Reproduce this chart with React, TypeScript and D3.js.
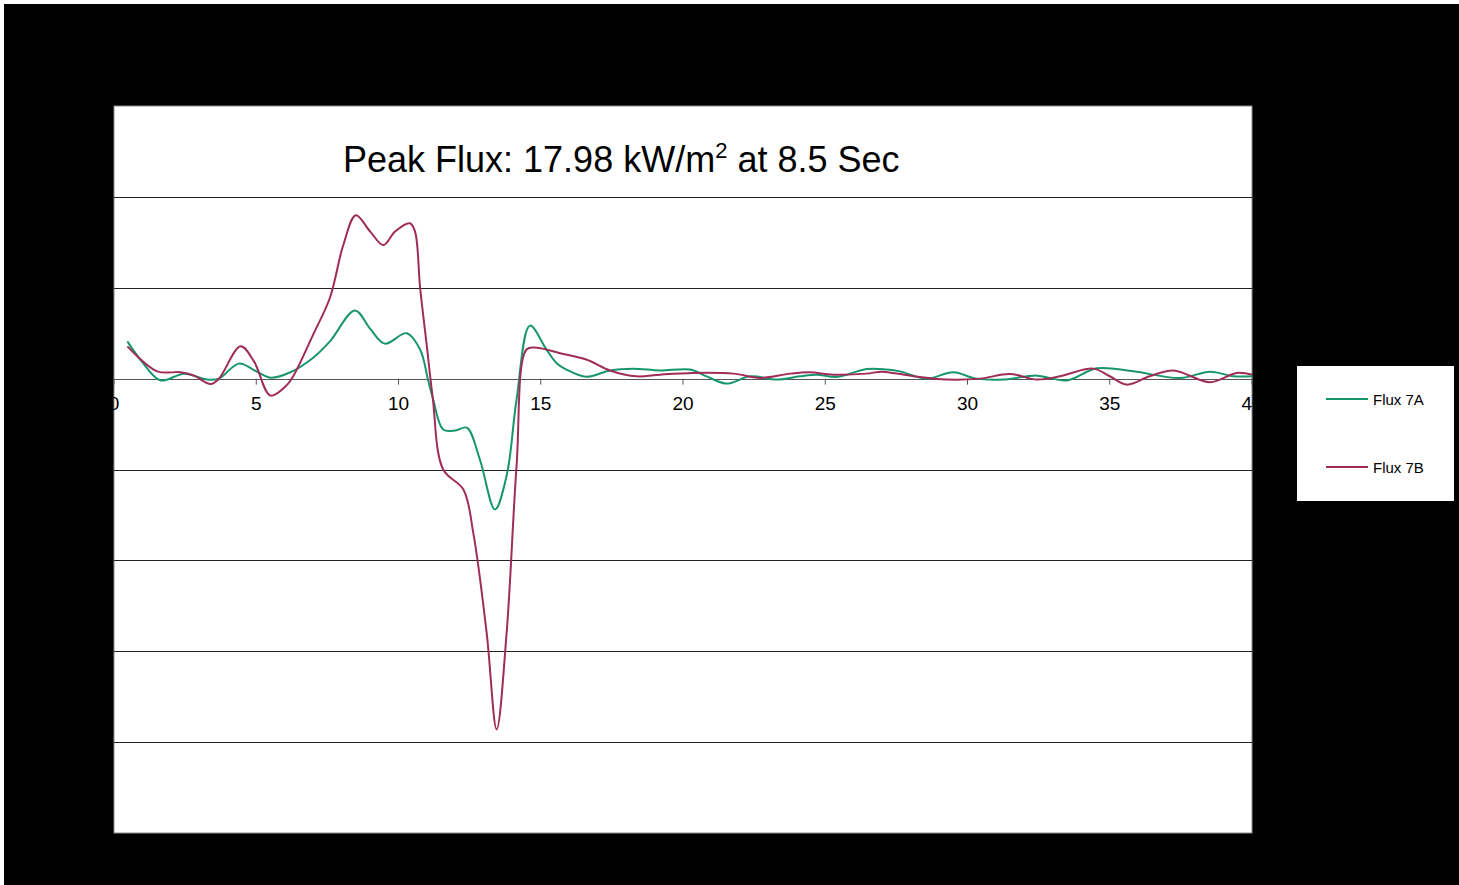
import React from "react";
import * as d3 from "d3";

const xTicks = [0, 5, 10, 15, 20, 25, 30, 35, 40];
const yTicks = [-50, -40, -30, -20, -10, 0, 10, 20, 30];

const timeA = [0.47, 1.0, 1.64, 2.46, 3.28, 3.69, 4.39, 5.0, 5.5, 6.2, 7.0, 7.59, 8.47, 9.0, 9.52, 10.29, 10.76, 11.05, 11.22, 11.57, 12.0, 12.4, 12.86, 13.39, 13.8, 14.15, 14.62, 15.2, 15.56, 15.9, 16.6, 17.43, 18.25, 19.19, 20.25, 20.83, 21.54, 22.36, 23.3, 24.1, 24.7, 25.4, 26.46, 27.16, 27.63, 28.56, 29.5, 30.3, 31.26, 32.44, 33.5, 34.54, 35.83, 37.47, 38.53, 39.34, 40];
const fluxA = [4.1, 1.8, -0.2, 0.55, -0.1, 0.0, 1.65, 0.8, 0.1, 0.7, 2.3, 4.1, 7.5, 5.5, 3.85, 5.0, 3.2, -0.3, -2.3, -5.6, -5.7, -5.4, -8.9, -14.4, -10.7, -2.3, 5.83, 3.2, 1.7, 1.0, 0.2, 0.9, 1.1, 0.9, 1.0, 0.25, -0.55, 0.25, -0.1, 0.25, 0.44, 0.18, 1.06, 1.0, 0.8, 0.0, 0.7, 0.0, -0.1, 0.33, -0.2, 1.13, 0.8, 0.07, 0.77, 0.26, 0.26];

const timeB = [0.47, 1.52, 2.34, 2.81, 3.4, 3.69, 4.45, 4.92, 5.5, 6.09, 6.33, 7.0, 7.59, 8.06, 8.5, 9.0, 9.47, 9.88, 10.4, 10.58, 10.76, 10.99, 11.2, 11.57, 12.28, 12.63, 13.1, 13.45, 13.8, 14.15, 14.5, 14.85, 15.68, 16.6, 17.43, 18.37, 19.19, 20.36, 21.77, 22.7, 23.76, 24.46, 25.28, 26.46, 27.0, 28.1, 29.27, 30.44, 31.49, 32.44, 33.25, 34.42, 35.0, 35.6, 36.4, 37.24, 38.53, 39.46, 40];
const fluxB = [3.55, 0.8, 0.7, 0.33, -0.6, 0.0, 3.55, 1.9, -1.87, -0.66, 0.44, 4.84, 8.9, 14.7, 17.98, 16.2, 14.7, 16.2, 17.1, 16.2, 10, 3.74, -2.0, -10, -12.2, -17, -28, -38.6, -28, -9.6, 3.2, 3.4, 2.8, 2.1, 0.9, 0.25, 0.44, 0.62, 0.55, 0.08, 0.55, 0.7, 0.44, 0.55, 0.77, 0.26, -0.1, 0.0, 0.5, -0.1, 0.26, 1.1, 0.26, -0.66, 0.26, 0.9, -0.4, 0.62, 0.44];

const seriesNames = ["Flux 7A", "Flux 7B"];
const seriesColors = ["#17966b", "#a02c5a"];

export default function App() {
  const W = 1459;
  const H = 885;
  const left = 114, right = 1252, top = 106, bottom = 833;
  const x = d3.scaleLinear().domain([0, 40]).range([left, right]);
  const y = d3.scaleLinear().domain([-50, 30]).range([bottom, top]);
  const line = d3
    .line<[number, number]>()
    .x((d) => x(d[0]))
    .y((d) => y(d[1]))
    .curve(d3.curveCatmullRom.alpha(0.5));
  const dataA: [number, number][] = timeA.map((t, i) => [t, fluxA[i]]);
  const dataB: [number, number][] = timeB.map((t, i) => [t, fluxB[i]]);
  const font = "Liberation Sans, Arial, sans-serif";

  return (
    <svg
      width={W}
      height={H}
      style={{ position: "absolute", left: 0, top: 0, background: "#fff" }}
    >
      <defs>
        <clipPath id="plotClip">
          <rect x={left} y={top} width={right - left} height={bottom - top} />
        </clipPath>
      </defs>
      <rect x={4} y={4} width={W - 4} height={H - 4} fill="#000" />
      <rect
        x={left}
        y={top}
        width={right - left}
        height={bottom - top}
        fill="#fff"
        stroke="#8a8a8a"
        strokeWidth={1}
      />
      {yTicks
        .filter((v) => v !== 0 && v !== -50 && v !== 30)
        .map((v) => (
          <line
            key={"g" + v}
            x1={left}
            x2={right}
            y1={Math.round(y(v)) + 0.5}
            y2={Math.round(y(v)) + 0.5}
            stroke="#222"
            strokeWidth={1}
          />
        ))}
      {yTicks.map((v) => (
        <text
          key={"yl" + v}
          x={left - 10}
          y={y(v) + 6}
          textAnchor="end"
          fontFamily={font}
          fontSize={19}
          fill="#000"
        >
          {v}
        </text>
      ))}
      <line
        x1={left}
        x2={right}
        y1={Math.round(y(0)) + 0.5}
        y2={Math.round(y(0)) + 0.5}
        stroke="#555"
        strokeWidth={1.2}
      />
      {xTicks.map((t) => (
        <g key={"xt" + t}>
          <line
            x1={x(t)}
            x2={x(t)}
            y1={y(0)}
            y2={y(0) + 6}
            stroke="#555"
            strokeWidth={1}
          />
          <text
            x={x(t)}
            y={y(0) + 31}
            textAnchor="middle"
            fontFamily={font}
            fontSize={19}
            fill="#000"
          >
            {t}
          </text>
        </g>
      ))}
      <g clipPath="url(#plotClip)">
        <path d={line(dataA) || ""} fill="none" stroke={seriesColors[0]} strokeWidth={2} />
        <path d={line(dataB) || ""} fill="none" stroke={seriesColors[1]} strokeWidth={2} />
      </g>
      <text x={343} y={172} fontFamily={font} fontSize={36} fill="#000">
        Peak Flux: 17.98 kW/m
        <tspan fontSize={22} dy={-14}>2</tspan>
        <tspan dy={14}> at 8.5 Sec</tspan>
      </text>
      <rect x={1297} y={366} width={157} height={135} fill="#fff" />
      {seriesNames.map((n, i) => (
        <g key={n}>
          <line
            x1={1326}
            x2={1368}
            y1={399 + i * 68}
            y2={399 + i * 68}
            stroke={seriesColors[i]}
            strokeWidth={2}
          />
          <text
            x={1373}
            y={405 + i * 68}
            fontFamily={font}
            fontSize={15}
            fill="#000"
          >
            {n}
          </text>
        </g>
      ))}
    </svg>
  );
}
